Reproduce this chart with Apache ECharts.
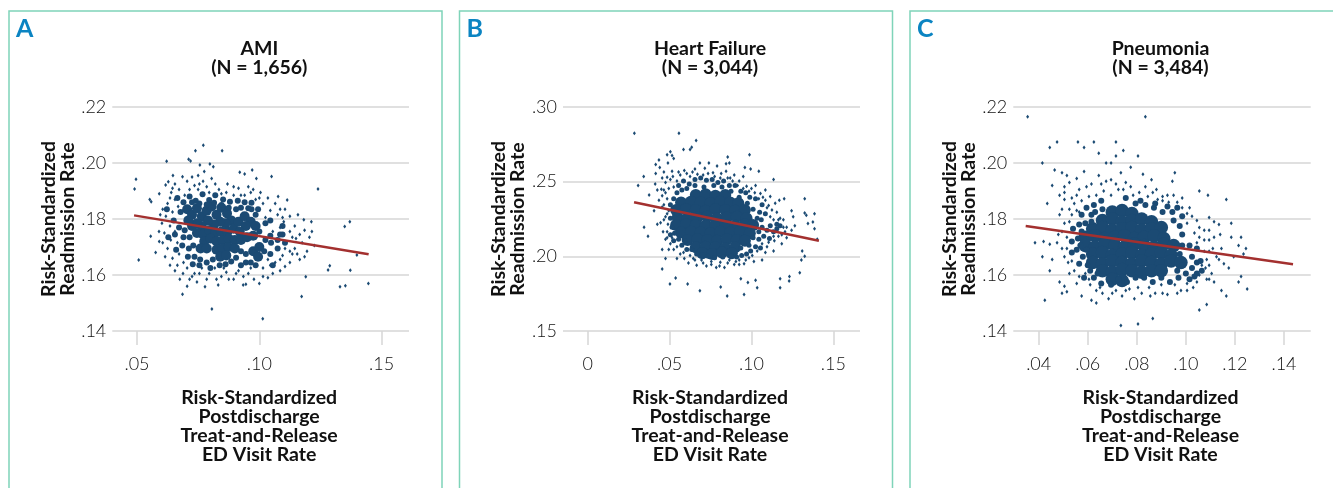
<!DOCTYPE html>
<html><head><meta charset="utf-8">
<style>html,body{margin:0;padding:0;background:#fff}#c{width:1333px;height:488px}</style>
<script src="https://cdn.jsdelivr.net/npm/echarts@6/dist/echarts.min.js"></script></head>
<body><div id="c"></div>
<script>
const yTicksA=[.14,.16,.18,.20,.22], xTicksA=[.05,.10,.15];
const yTicksB=[.15,.20,.25,.30], xTicksB=[0,.05,.10,.15];
const yTicksC=[.14,.16,.18,.20,.22], xTicksC=[.04,.06,.08,.10,.12,.14];
const trendA=[[.0488,.1813],[.1447,.1674]];
const trendB=[[.0283,.2362],[.1412,.2105]];
const trendC=[[.0347,.1775],[.1437,.1638]];

const pointsA=[[.049,.1907],[.0496,.1942],[.0507,.1654],[.0552,.187],[.0558,.1862],[.0556,.1738],[.0576,.168],[.0591,.172],[.0621,.2006],[.0647,.1955],[.0628,.1933],[.0617,.1921],[.0591,.189],[.0686,.1951],[.0711,.2013],[.0719,.2007],[.0739,.2044],[.0771,.2063],[.0848,.2044],[.0757,.1993],[.0798,.1996],[.0812,.1987],[.092,.1967],[.094,.1961],[.0971,.1975],[.0988,.1945],[.105,.1952],[.124,.1907],[.1077,.188],[.1114,.1868],[.1158,.1815],[.1182,.1797],[.1213,.179],[.1349,.1773],[.137,.179],[.1399,.1671],[.1288,.1633],[.1281,.1618],[.1372,.1617],[.133,.1558],[.1352,.1562],[.1446,.157],[.119,.1594],[.1173,.1523],[.1014,.1444],[.0806,.1479],[.0686,.1531],[.0832,.1564],[.0934,.1564],[.0945,.1567],
[.064,.1895],[.0655,.187],[.0625,.1855],[.0668,.1845],[.0645,.1825],[.0618,.181],[.0602,.1785],[.0635,.1775],[.0655,.1755],[.0612,.175],[.0638,.1725],[.0665,.1715],[.0625,.1695],[.0672,.1675],[.0645,.166],[.069,.1645],[.0665,.1635],[.0705,.1625],[.0688,.1605],[.0725,.1595],[.0745,.1575],[.0705,.156],[.0778,.1558],[.0735,.1605],[.0765,.1625],[.0795,.1605],[.0818,.1625],[.0845,.1595],[.0865,.161],[.0895,.1585],[.0915,.1615],[.0955,.1605],[.0978,.1585],[.1,.157],[.1035,.159],[.1015,.1625],[.1055,.1605],[.1085,.1615],[.1065,.1645],[.1105,.163],[.1035,.1655],[.1125,.1645],[.1095,.167],[.1135,.1675],[.1165,.1655],[.1145,.1695],[.1195,.1685],[.1175,.1715],[.1225,.1705],[.1205,.1735],[.115,.173],[.1125,.1755],[.1185,.176],[.1215,.1755],[.1145,.1775],[.11,.179],[.1085,.177],[.1055,.1755],[.1075,.1815],[.1045,.183],[.1025,.1805],[.1105,.1835],[.1015,.1855],[.1,.1875],[.0965,.1895],[.0985,.187],[.094,.1885],[.0915,.191],[.0895,.1885],[.087,.1925],[.0845,.189],[.082,.1925],[.0795,.1895],[.077,.1935],[.075,.1955],[.0735,.192],[.0715,.1905],[.0695,.1885],[.0775,.197],[.075,.1905],
[.0655,.1925],[.0672,.1905],[.0645,.191],[.0705,.1935],[.0725,.195],[.0755,.1925],[.0785,.1915],[.0805,.1945],[.0835,.1905],[.0865,.1895],[.0895,.1915],[.0925,.1885],[.0955,.1915],[.0975,.1905],[.1005,.1895],[.1035,.1875],[.1065,.1855],[.1085,.1835],[.1125,.181],[.1095,.1805],[.1135,.1735],[.1165,.1745],[.1105,.1695],[.1125,.1685],[.1155,.1675],[.1185,.1665],[.1085,.1655],[.1045,.1635],[.1015,.1595],[.0965,.1625],[.0935,.1595],[.0905,.1605],[.0875,.1585],[.0855,.1625],[.0825,.1585],[.0785,.1585],[.0755,.1605],[.0715,.1585],[.0675,.1585],[.0655,.1615],[.0635,.1635],[.0615,.1665],[.0605,.1715],[.059,.1755],[.0595,.1815],[.0605,.1835],[.0635,.1875]];
const clusterA=[[.0665,.1875],[.069,.186],[.0715,.188],[.074,.1865],[.0768,.1888],[.0795,.1868],[.082,.1885],[.0852,.187],[.088,.1862],[.0912,.1865],[.094,.186],[.0968,.1858],[.0995,.1835],[.065,.1795],[.0678,.1825],[.0672,.177],[.0695,.176],[.069,.1735],[.0715,.1735],[.0685,.1705],[.0712,.1695],[.073,.1705],[.0708,.1665],[.0735,.1665],[.0758,.1655],[.0728,.1638],[.0755,.1635],[.0785,.1645],[.081,.1655],[.08,.1625],[.0838,.1635],[.0862,.1638],[.0885,.1648],[.0905,.1662],[.0925,.1635],[.0945,.1645],[.0945,.1675],[.0965,.1645],[.0925,.1685],[.0985,.1635],[.102,.1685],[.1045,.1675],[.1075,.1695],[.1048,.1715],[.1075,.1725],[.1105,.1715],[.1025,.1725],[.1045,.174],[.1095,.1745],[.1,.1755],[.1025,.1785],[.0985,.1815],[.1045,.1795],[.0968,.1835],[.0725,.186],[.0755,.1855],[.0785,.1852],[.0815,.1858],[.0845,.185],[.0875,.184],[.0905,.1835],[.0925,.184],[.0955,.1838],[.1085,.1745],[.0655,.1745],[.0622,.1835],[.0628,.1735],[.066,.169],[.1055,.1635],[.1095,.1775]];
const coreA=[[.0705,.1835],[.0725,.1815],[.0745,.1838],[.0765,.181],[.0785,.183],[.0805,.1845],[.0825,.1815],[.0845,.184],[.0868,.182],[.0885,.1795],[.0862,.1785],[.084,.179],[.0815,.178],[.079,.1795],[.0765,.1775],[.0745,.1785],[.0725,.1775],[.071,.1795],[.0745,.175],[.077,.1745],[.0795,.176],[.082,.175],[.0845,.1755],[.087,.1755],[.0895,.1765],[.0915,.179],[.094,.181],[.0965,.179],[.0985,.1775],[.0945,.1775],[.092,.1755],[.0775,.172],[.08,.173],[.0825,.172],[.085,.1725],[.0875,.173],[.09,.1725],[.0925,.1725],[.095,.1735],[.0975,.174],[.0825,.169],[.085,.1695],[.0875,.17],[.09,.1695],[.084,.1665],[.0865,.167],[.0975,.1685],[.1,.17],[.0995,.1665],[.076,.1695],[.0785,.1695]];

const pointsB=[[.0285,.2825],[.0318,.3035],[.0557,.2825],[.0662,.2775],[.0988,.268],[.0342,.2535],[.0308,.2475],[.0375,.241],[.0344,.2195],[.0368,.2135],[.0455,.1915],[.0537,.1855],[.0502,.1815],[.061,.1815],[.0685,.177],[.0812,.1795],[.0852,.1735],[.0955,.1745],[.0935,.185],[.0978,.1825],[.1025,.184],[.1035,.179],[.1175,.185],[.1175,.179],[.123,.1835],[.1295,.189],[.1232,.1865],[.1305,.1975],[.1325,.2],[.131,.2035],[.1325,.2385],[.1325,.229],[.1335,.2275],[.1385,.2285],[.1375,.223],[.1345,.222],[.1402,.2115],[.1385,.2185],[.1255,.2265],[.1245,.2305],[.1175,.2255],[.12,.2385],[.117,.2375],[.1135,.2515],[.1045,.257],[.0995,.2585],[.096,.2595],[.0855,.2665],[.0865,.2625],[.0845,.262],[.0635,.273],[.0625,.2715],[.0585,.2715],[.0505,.27],[.0485,.268],[.0515,.2675],[.0415,.2615],[.0435,.2645],[.0415,.2555],[.0412,.2485],[.0425,.2445],[.045,.245],[.0475,.2425],[.0435,.2375],[.0455,.233],[.0405,.2305],[.0425,.2215],[.0445,.2225],[.046,.2165],[.0475,.2115],[.0455,.2045],[.0495,.2045],[.0475,.1985],
[.044,.2595],[.0465,.2565],[.049,.2625],[.0525,.2655],[.0515,.257],[.0485,.253],[.0545,.2505],[.0565,.2545],[.059,.2575],[.0625,.2535],[.0655,.2585],[.0685,.2625],[.0715,.259],[.074,.2625],[.0765,.256],[.079,.2605],[.0815,.2555],[.0845,.257],[.087,.2525],[.0895,.2545],[.0925,.2505],[.095,.2535],[.097,.247],[.1,.2455],[.1025,.2475],[.1055,.242],[.1085,.2445],[.1115,.24],[.1145,.2355],[.1105,.234],[.1085,.2375],[.1125,.231],[.1155,.2295],[.1135,.2245],[.1195,.2245],[.1215,.2195],[.1245,.2175],[.1265,.2205],[.1215,.2125],[.1185,.2085],[.1165,.2135],[.114,.2105],[.1095,.2065],[.1135,.2035],[.1085,.2025],[.1065,.1975],[.1015,.1965],[.0985,.199],[.0955,.195],[.0925,.1975],[.0895,.1945],[.0865,.1975],[.0835,.1925],[.081,.196],[.0785,.1925],[.0755,.1965],[.0725,.1935],[.0695,.1975],[.0665,.194],[.0645,.1985],[.0615,.1955],[.059,.1985],[.0565,.2015],[.0545,.1985],[.0525,.2045],[.0505,.2085],[.0485,.2125],[.052,.2105],[.049,.2215],[.0475,.2265],[.0495,.2305],[.0465,.2345],[.0485,.2385],[.0525,.2465],[.0475,.2495],
[.0455,.2525],[.0505,.2515],[.0465,.2445],[.052,.2535],[.0555,.2565],[.0605,.2555],[.064,.2565],[.067,.255],[.0705,.2545],[.0735,.2555],[.0775,.2535],[.081,.2525],[.0855,.2525],[.0885,.2505],[.0915,.2475],[.095,.2455],[.0985,.2435],[.102,.2425],[.1045,.2385],[.107,.2395],[.1095,.2325],[.1115,.2265],[.1165,.2245],[.1195,.2195],[.1205,.2165],[.1185,.2145],[.1135,.2135],[.1105,.2095],[.1065,.2085],[.1035,.2035],[.1005,.2005],[.0965,.1975],[.0925,.1945],[.0905,.1965],[.0855,.1955],[.0805,.1935],[.0755,.1945],[.0705,.1955],[.0655,.1975],[.0625,.2005],[.0585,.2025],[.0545,.2065],[.0515,.2125],[.0485,.2165],[.0465,.2245],[.0485,.2285],[.0455,.2405],[.0495,.2455]];
const clusterB=[[.0505,.2145],[.0515,.2195],[.0505,.2255],[.0505,.2345],[.0525,.2385],[.0545,.2425],[.0575,.2445],[.0605,.2455],[.0555,.2475],[.0585,.2505],[.062,.2485],[.0655,.2515],[.069,.2525],[.0725,.251],[.076,.2515],[.0795,.2495],[.083,.2505],[.0865,.2475],[.09,.2475],[.0935,.2435],[.0965,.2425],[.099,.2395],[.1025,.2385],[.1065,.2345],[.105,.2295],[.1085,.2285],[.106,.2245],[.1065,.2195],[.1095,.2175],[.1115,.2205],[.1155,.2185],[.1175,.2205],[.1135,.2165],[.1155,.2215],[.1075,.2135],[.1045,.2115],[.111,.212],[.1055,.2055],[.1025,.2065],[.0995,.2035],[.097,.2015],[.094,.2005],[.091,.1995],[.0875,.2],[.0825,.1995],[.0775,.199],[.0735,.2],[.07,.201],[.0665,.2015],[.0635,.2045],[.0605,.2045],[.0575,.2075],[.0555,.2115],[.053,.2155],[.0655,.2475],[.071,.2465],[.077,.2475],[.082,.2465],[.0875,.2435],[.0925,.2395],[.0975,.2355],[.101,.2315],[.1035,.2255],[.1045,.2165],[.101,.2125],[.0985,.2075],[.0935,.2055],[.0545,.2285],[.0525,.2105],[.0595,.2105]];
const coreB=[[.066,.241],[.072,.2415],[.078,.2405],[.084,.241],[.057,.236],[.063,.2365],[.069,.236],[.075,.2355],[.081,.2365],[.087,.236],[.092,.2355],[.054,.231],[.06,.2315],[.066,.231],[.072,.2305],[.078,.2315],[.084,.231],[.09,.2305],[.096,.231],[.055,.226],[.061,.2255],[.067,.226],[.073,.2265],[.079,.2255],[.085,.226],[.091,.2265],[.097,.2255],[.054,.221],[.06,.2215],[.066,.221],[.072,.2205],[.078,.2215],[.084,.221],[.09,.2205],[.096,.2215],[.101,.221],[.057,.216],[.063,.2165],[.069,.216],[.075,.2155],[.081,.2165],[.087,.216],[.093,.2165],[.099,.2155],[.061,.211],[.067,.2115],[.073,.211],[.079,.2105],[.085,.2115],[.091,.211],[.096,.2105],[.066,.206],[.072,.2065],[.078,.206],[.084,.2055],[.09,.206],[.07,.202],[.076,.2015],[.082,.2025],[.088,.202]];

const pointsC=[[.0355,.2165],[.0835,.2165],[.0445,.2055],[.0475,.2075],[.056,.2075],[.0625,.2075],[.0715,.2075],[.0585,.2055],[.0645,.2035],[.0715,.2025],[.0695,.2],[.0745,.2045],[.0805,.2025],[.0675,.2],[.0415,.2],[.0465,.1975],[.0495,.1965],[.0585,.197],[.0525,.193],[.0505,.1915],[.0455,.192],[.0485,.1885],[.0515,.1955],[.0435,.1855],[.0505,.1895],[.0555,.1945],[.0595,.1915],[.0645,.1955],[.0695,.194],[.0735,.1965],[.0755,.193],[.0775,.1985],[.0825,.196],[.086,.194],[.088,.1905],[.0905,.188],[.0945,.1935],[.0955,.1965],[.093,.186],[.0985,.1875],[.1055,.19],[.109,.1885],[.1165,.187],[.1095,.1805],[.1115,.179],[.1185,.1785],[.1135,.178],[.114,.1745],[.1185,.1735],[.1225,.1735],[.1215,.1705],[.1245,.1695],[.1235,.1675],[.1195,.1665],[.1175,.1625],[.1225,.1595],[.1215,.1575],[.125,.155],[.1165,.1525],[.1145,.1545],[.1115,.1575],[.1095,.1585],[.1085,.1495],[.1055,.1475],[.0865,.1445],[.0805,.1425],[.0735,.142],[.0425,.151],[.0635,.15],[.0615,.151],[.0575,.1525],[.0515,.154],[.0495,.1535],[.0445,.1615],[.0415,.1665],[.0385,.1715],[.042,.172],[.0445,.171],[.0455,.1655],[.0485,.1575],[.0505,.156],
[.0505,.187],[.0525,.1835],[.0545,.1855],[.0485,.1815],[.0505,.1785],[.048,.1745],[.0515,.1735],[.0495,.1695],[.052,.1645],[.0545,.1615],[.0555,.157],[.059,.1605],[.061,.1565],[.0635,.1545],[.066,.1535],[.0685,.1515],[.0715,.1545],[.074,.1525],[.077,.155],[.079,.1515],[.082,.1535],[.085,.1555],[.0875,.1535],[.09,.1565],[.0925,.153],[.0955,.1565],[.098,.1545],[.1005,.157],[.103,.1555],[.1055,.16],[.108,.1625],[.1095,.1635],[.1135,.1655],[.1155,.164],[.1075,.1685],[.111,.1695],[.1145,.1695],[.1095,.1725],[.1055,.1735],[.1075,.176],[.1035,.175],[.1005,.1785],[.1025,.181],[.1015,.184],[.0965,.186],[.0905,.1865],[.0845,.188],[.0785,.1885],[.0725,.1905],[.0695,.1885],[.0665,.19],[.0635,.1885],[.0605,.188],[.0575,.1865],[.0555,.1885],[.0555,.183],
[.0535,.1875],[.0565,.1905],[.0615,.1925],[.0655,.1925],[.0675,.1935],[.0715,.1925],[.0745,.1905],[.0775,.1915],[.081,.1895],[.0835,.1915],[.0865,.1895],[.0885,.187],[.0925,.1885],[.095,.1885],[.0985,.184],[.1005,.182],[.1045,.1795],[.1055,.177],[.1095,.176],[.1115,.1735],[.1075,.1725],[.1045,.1715],[.1095,.1685],[.1125,.1665],[.1085,.1655],[.1065,.1635],[.1105,.1605],[.1085,.1585],[.1045,.1575],[.1005,.1545],[.0965,.1535],[.0905,.1535],[.0855,.1525],[.0805,.1555],[.0755,.1545],[.07,.1535],[.065,.1555],[.0605,.1585],[.0565,.1595],[.0525,.1605],[.0535,.165],[.0505,.1665],[.0515,.1695],[.0475,.1715],[.0495,.1755],[.0525,.179],[.0495,.1835],[.0535,.1815],[.0565,.1825]];
const clusterC=[[.0575,.1815],[.0565,.178],[.054,.1765],[.056,.173],[.0535,.172],[.0555,.169],[.058,.1665],[.06,.1635],[.0565,.164],[.0535,.168],[.0585,.159],[.0625,.159],[.0655,.157],[.0695,.1565],[.0725,.1585],[.076,.1575],[.0795,.159],[.083,.159],[.0865,.1575],[.09,.159],[.0935,.1575],[.097,.159],[.1,.1605],[.1025,.1625],[.1045,.1645],[.1025,.1665],[.1045,.1695],[.1015,.1705],[.0985,.1745],[.0975,.1775],[.095,.1795],[.0905,.1825],[.087,.184],[.0835,.185],[.0795,.1855],[.0755,.1875],[.0815,.1865],[.0875,.1855],[.0925,.1845],[.0945,.1825],[.0965,.184],[.0985,.181],[.0655,.1865],[.0625,.185],[.0595,.184],[.0615,.1815],[.059,.1785],[.1065,.1615],[.1045,.1605],[.1015,.1585],[.0965,.1615],[.063,.1825],[.066,.1835],[.0575,.1755],[.057,.1705],[.0595,.169],[.106,.165],[.1035,.1595],[.0985,.1635],[.0975,.1675],[.0985,.1705],[.061,.1615],[.064,.1605],[.0615,.179]];
const coreC=[[.07,.1825],[.074,.183],[.078,.182],[.066,.1795],[.07,.18],[.074,.179],[.078,.1795],[.082,.18],[.086,.179],[.062,.1765],[.066,.177],[.07,.176],[.074,.1765],[.078,.177],[.082,.176],[.086,.1765],[.09,.177],[.059,.1735],[.063,.174],[.067,.173],[.071,.1735],[.075,.174],[.079,.173],[.083,.1735],[.087,.174],[.091,.173],[.059,.1705],[.063,.17],[.067,.171],[.071,.1705],[.075,.17],[.079,.171],[.083,.1705],[.087,.17],[.091,.171],[.095,.1705],[.062,.1675],[.066,.168],[.07,.167],[.074,.1675],[.078,.168],[.082,.167],[.086,.1675],[.09,.168],[.094,.167],[.062,.1645],[.066,.164],[.07,.165],[.074,.1645],[.078,.164],[.082,.165],[.086,.1645],[.09,.164],[.094,.165],[.098,.1645],[.066,.1615],[.07,.161],[.074,.162],[.078,.1615],[.082,.161],[.086,.1615],[.09,.1615],[.07,.1585],[.074,.158]];

const darkBlue='#1b4a73', red='#a3302f', grey='#d6d6d6', ink='#111', font='Lato';
const fmt=v=>v===0?'0':v.toFixed(2).replace(/^0/,'');
const panels=[
 {letter:'A',title:'AMI\n(N = 1,656)',box:[9,11],grid:[112.3,409],cx:259.3,x:[.0399,.1612],y:[.14,.22,.02],xt:xTicksA,yt:yTicksA,pts:pointsA,cluster:clusterA,clusterSize:6,core:coreA,coreSize:10,trend:trendA},
 {letter:'B',title:'Heart Failure\n(N = 3,044)',box:[459.5,11],grid:[563,860],cx:710,x:[-.0151,.1663],y:[.15,.30,.05],xt:xTicksB,yt:yTicksB,pts:pointsB,cluster:clusterB,clusterSize:5,core:coreB,coreSize:12,trend:trendB},
 {letter:'C',title:'Pneumonia\n(N = 3,484)',box:[910,11],grid:[1013.3,1310.7],cx:1160.5,x:[.02965,.1509],y:[.14,.22,.02],xt:xTicksC,yt:yTicksC,pts:pointsC,cluster:clusterC,clusterSize:6,core:coreC,coreSize:13.5,trend:trendC}];
const xName='Risk-Standardized\nPostdischarge\nTreat-and-Release\nED Visit Rate';
const yName='Risk-Standardized\nReadmission Rate';
const opt={animation:false,backgroundColor:'#fff',textStyle:{fontFamily:font},
 title:[],grid:[],xAxis:[],yAxis:[],series:[],graphic:[]};
const dots=(i,data,symbol,size)=>({type:'scatter',xAxisIndex:i,yAxisIndex:i,data,symbol,symbolSize:size,itemStyle:{color:darkBlue,opacity:1},silent:true,z:2});
panels.forEach((p,i)=>{
 opt.graphic.push({type:'rect',silent:true,shape:{x:p.box[0],y:p.box[1],width:433,height:500},style:{fill:'none',stroke:'#7fd4b9',lineWidth:1.5}});
 opt.graphic.push({type:'text',left:p.box[0]+7,top:16,style:{text:p.letter,font:'700 25px Lato',fill:'#0b84c2'}});
 opt.title.push({text:p.title,left:p.cx-5,top:34,textAlign:'center',textStyle:{fontFamily:font,fontWeight:700,fontSize:19.5,lineHeight:19,color:ink}});
 opt.grid.push({left:p.grid[0],width:p.grid[1]-p.grid[0],top:107,height:224});
 opt.xAxis.push({gridIndex:i,type:'value',min:p.x[0],max:p.x[1],position:'bottom',
  name:xName,nameLocation:'middle',nameGap:57,nameTextStyle:{fontFamily:font,fontWeight:700,fontSize:19.5,lineHeight:19,color:ink,verticalAlign:'top',padding:[0,3,0,0]},
  axisLine:{show:false},splitLine:{show:false},
  axisTick:{show:true,length:14,customValues:p.xt,lineStyle:{color:grey,width:1.5}},
  axisLabel:{margin:24,customValues:p.xt,formatter:fmt,fontFamily:font,fontWeight:300,fontSize:18,color:'#111',showMinLabel:true,showMaxLabel:true}});
 opt.yAxis.push({gridIndex:i,type:'value',min:p.y[0],max:p.y[1],interval:p.y[2],
  name:yName,nameLocation:'middle',nameGap:35,nameRotate:90,nameTextStyle:{fontFamily:font,fontWeight:700,fontSize:19.5,lineHeight:19,color:ink},
  axisLine:{show:false},axisTick:{show:false},
  splitLine:{show:true,lineStyle:{color:grey,width:1.5}},
  axisLabel:{margin:6,formatter:fmt,fontFamily:font,fontWeight:300,fontSize:18,color:'#111'}});
 opt.series.push(dots(i,p.core,'circle',p.coreSize));
 opt.series.push(dots(i,p.cluster,'circle',p.clusterSize));
 opt.series.push(dots(i,p.pts,'diamond',[3,4]));
 opt.series.push({type:'line',xAxisIndex:i,yAxisIndex:i,data:p.trend,symbol:'none',lineStyle:{color:red,width:2.5},silent:true,z:3});
});
echarts.init(document.getElementById('c')).setOption(opt);
</script></body></html>
